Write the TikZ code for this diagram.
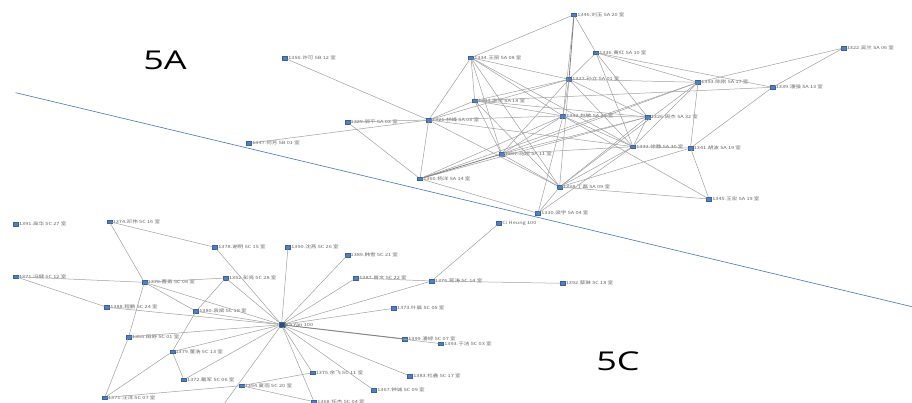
\documentclass[tikz,border=0pt]{standalone}
\usepackage{fontspec}
\setmainfont{Open Sans}
\newfontfamily\cjk{Noto Sans CJK SC}
\definecolor{nodeblue}{RGB}{79,129,199}
\definecolor{lineblue}{RGB}{68,114,196}
\definecolor{edgegray}{RGB}{160,160,160}
\begin{document}
\begin{tikzpicture}[
            x=1pt,y=-1pt,
            pt/.style={rectangle,fill=nodeblue,draw=nodeblue!75!black,line width=0.2pt,inner sep=0pt,minimum width=5pt,minimum height=3.6pt},
            lbl/.style={font=\cjk\fontsize{4.3}{5}\selectfont,text=black!60,inner sep=0.4pt,xscale=1.3,transform shape},
            edge/.style={draw=edgegray,line width=0.5pt},
            heavy/.style={draw=black!50,line width=0.8pt},
            zone/.style={font=\fontsize{36}{40}\selectfont,yscale=0.72,transform shape}
        ]
            \useasboundingbox (0,0) rectangle (912,403);
            \fill[white] (0,0) rectangle (912,403);

            % divider between the two blocks
            \coordinate (cutl) at (15.7,92.7);
            \coordinate (cutr) at (912,306.7);
            \draw[lineblue,line width=0.6pt] (cutl) -- (cutr);

            \node[zone] (lab5a) at (165,60) {5A};
            \node[zone] (lab5c) at (618,361) {5C};

            % block 5A
            \node[pt,label={[lbl]right:1346.刘玉 5A 20 室}] (a20) at (574,14.7) {};
            \node[pt,label={[lbl]right:1336.黄红 5A 10 室}] (a10) at (596,52.7) {};
            \node[pt,label={[lbl]right:1334.王丽 5A 08 室}] (a08) at (471,57.7) {};
            \node[pt,label={[lbl]right:1327.孙立 5A 01 室}] (a01) at (569,79.3) {};
            \node[pt,label={[lbl]right:1393.陈刚 5A 17 室}] (a17) at (698,82.3) {};
            \node[pt,label={[lbl]right:1339.潘强 5A 13 室}] (a13) at (772.5,87.3) {};
            \node[pt,label={[lbl]right:1322.吴兰 5A 06 室}] (a06) at (843.5,48) {};
            \node[pt,label={[lbl]right:1344.李军 5A 18 室}] (a18) at (474.7,100.7) {};
            \node[pt,label={[lbl]right:1342.赵敏 5A 16 室}] (a16) at (563,116) {};
            \node[pt,label={[lbl]right:1326.周杰 5A 32 室}] (a32) at (647.5,117) {};
            \node[pt,label={[lbl]right:1321.林峰 5A 05 室}] (a05) at (428.7,120) {};
            \node[pt,label={[lbl]right:1329.郭平 5A 03 室}] (a03) at (347.3,122) {};
            \node[pt,label={[lbl]right:1347.何芳 5B 01 室}] (b01) at (249,143.3) {};
            \node[pt,label={[lbl]right:1356.许可 5B 12 室}] (b12) at (285,58.3) {};
            \node[pt,label={[lbl]right:1307.马超 5A 11 室}] (a11) at (501.5,154) {};
            \node[pt,label={[lbl]right:1333.徐静 5A 30 室}] (a30) at (633,146.7) {};
            \node[pt,label={[lbl]right:1341.胡波 5A 19 室}] (a19) at (690.5,148) {};
            \node[pt,label={[lbl]right:1360.杨洋 5A 14 室}] (a14) at (420,178.7) {};
            \node[pt,label={[lbl]right:1338.丁磊 5A 09 室}] (a09) at (559.6,187) {};
            \node[pt,label={[lbl]right:1345.王宏 5A 19 室}] (a15) at (709,199) {};
            \node[pt,label={[lbl]right:1330.梁宇 5A 04 室}] (a04) at (538,213.3) {};

            % block 5C
            \node[pt,label={[lbl]right:1391.高华 5C 27 室}] (c27) at (15.7,224) {};
            \node[pt,label={[lbl]right:1374.邓伟 5C 16 室}] (c16) at (109.4,221.7) {};
            \node[pt,label={[lbl]right:1378.谢明 5C 15 室}] (c15) at (215,247.3) {};
            \node[pt,label={[lbl]right:1390.沈燕 5C 26 室}] (c26) at (288,247.3) {};
            \node[pt,label={[lbl]right:1389.韩雪 5C 21 室}] (c21) at (347.3,255.3) {};
            \node[pt,label={[lbl]right:Ci Heung 100}] (hung) at (499,223.3) {};
            \node[pt,label={[lbl]right:1371.冯健 5C 12 室}] (c12) at (15.7,276.7) {};
            \node[pt,label={[lbl]right:1370.曹勇 5C 08 室}] (c08) at (144.3,282.3) {};
            \node[pt,label={[lbl]right:1352.彭亮 5C 28 室}] (c28) at (225.7,278) {};
            \node[pt,label={[lbl]right:1387.曾文 5C 22 室}] (c22) at (356,278) {};
            \node[pt,label={[lbl]right:1376.蒋涛 5C 14 室}] (c14) at (431.6,281) {};
            \node[pt,label={[lbl]right:1392.蔡琳 5C 18 室}] (c18b) at (562.5,283.3) {};
            \node[pt,label={[lbl]right:1388.程鹏 5C 24 室}] (c24) at (107,307.3) {};
            \node[pt,label={[lbl]right:1380.袁斌 5C 18 室}] (c18) at (196,311.3) {};
            \node[pt,label={[lbl]right:1373.叶晨 5C 05 室}] (c05) at (393.8,308.3) {};
            \node[pt,minimum width=6pt,minimum height=5pt,fill=nodeblue!60!black,label={[lbl]right:Ka Yan 100}] (hub) at (281.6,324.7) {};
            \node[pt,label={[lbl]right:1366.田野 5C 01 室}] (c01) at (128.6,337) {};
            \node[pt,label={[lbl]right:1379.董浩 5C 13 室}] (c13) at (172.2,351.7) {};
            \node[pt,label={[lbl]right:1399.潘婷 5C 07 室}] (c07) at (405,339) {};
            \node[pt,label={[lbl]right:1393.于洁 5C 03 室}] (c03) at (441,343.7) {};
            \node[pt,label={[lbl]right:1375.余飞 5C 11 室}] (c11) at (312.4,372.7) {};
            \node[pt,label={[lbl]right:1383.杜鑫 5C 17 室}] (c17) at (410,376) {};
            \node[pt,label={[lbl]right:1372.戴军 5C 06 室}] (c06) at (183.8,379.7) {};
            \node[pt,label={[lbl]right:1394.夏雨 5C 20 室}] (c20) at (241.4,385.7) {};
            \node[pt,label={[lbl]right:1367.钟诚 5C 09 室}] (c09) at (374,390.3) {};
            \node[pt,label={[lbl]right:1371.汪洋 5C 07 室}] (c07b) at (104.7,397.7) {};
            \node[pt,label={[lbl]right:1368.任杰 5C 04 室}] (c04) at (314,401.7) {};
            \coordinate (offa) at (205,430);

            % links in 5A
            \begin{scope}[on background layer/.try]
            \foreach \a/\b in {a20/a08,a20/a10,a20/a16,b12/a05,a03/a05,a03/a14,b01/a05,
                a05/a14,a05/a18,a05/a16,a05/a08,a05/a01,a05/a30,a05/a09,
                a08/a18,a08/a11,a08/a16,a08/a09,a08/a30,a08/a01,
                a18/a01,a18/a16,a18/a09,a18/a32,a18/a11,
                a01/a16,a01/a09,a01/a17,a01/a30,a01/a32,a01/a10,a01/a11,
                a10/a17,a10/a32,a10/a30,a10/a13,
                a17/a06,a17/a14,a17/a09,a17/a11,a17/a19,a17/a30,
                a13/a06,a13/a19,a13/a18,
                a16/a14,a16/a32,a16/a30,a16/a15,a16/a04,a16/a11,
                a32/a09,a32/a30,a32/a11,a32/a14,
                a11/a09,a11/a30,a30/a09,a30/a19,a30/a04,
                a19/a15,a19/a09,a14/a04,a09/a04,a15/a09}
                \draw[edge] (\a) -- (\b);
            \draw[heavy] (a20) -- (a01);
            \draw[heavy] (a11) -- (a14);

            % links in 5C
            \foreach \a/\b in {c16/c08,c16/c15,c15/hub,c26/hub,c21/hub,c22/hub,c22/c14,
                c14/hub,c14/hung,c14/c18b,c12/c08,c12/c24,c24/hub,
                c08/c28,c08/c18,c08/hub,c08/c01,c01/c07b,c28/c18,c28/hub,
                c18/c13,c18/hub,c13/c06,c13/c07b,c13/hub,c06/hub,c01/hub,
                c20/c07b,c20/c11,c20/c04,c11/hub,c04/hub,c09/hub,c17/hub,
                c03/hub,c05/hub,hub/offa}
                \draw[edge] (\a) -- (\b);
            \draw[heavy] (hub) -- (c07);
            \end{scope}
        \end{tikzpicture}
\end{document}
